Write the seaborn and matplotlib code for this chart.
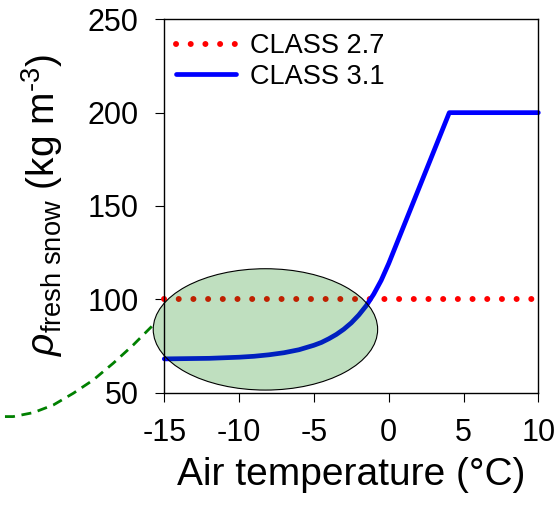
import matplotlib
matplotlib.use("Agg")
import matplotlib.pyplot as plt
from matplotlib.patches import Ellipse
import seaborn as sns
import pandas as pd

# ---- data ----
class27_temp = [-15, 10]
class27_rho = [100, 100]

class31_temp = [-15, -14, -13, -12, -11, -10, -9, -8, -7, -6, -5, -4.5, -4, -3.5,
                -3, -2.5, -2, -1.5, -1, -0.5, 0, 4.05, 10]
class31_rho = [68.1, 68.2, 68.3, 68.4, 68.7, 69.0, 69.5, 70.3, 71.4, 73.0, 75.4, 76.9,
               78.9, 81.2, 84.0, 87.4, 91.6, 96.6, 102.8, 110.2, 119.2, 200, 200]

ext_temp = [-25.65, -25.1, -23.76, -22.42, -21.08, -19.75, -18.41, -17.07, -15.74]
ext_rho = [37.2, 37.2, 39.3, 43.4, 49.7, 56.8, 65.8, 75.6, 86.3]

xticks = [-15, -10, -5, 0, 5, 10]
yticks = [50, 100, 150, 200, 250]

sns.set_style("ticks")
plt.rcParams["font.family"] = ["Liberation Sans", "DejaVu Sans"]
plt.rcParams["mathtext.fontset"] = "custom"
plt.rcParams["mathtext.rm"] = "Liberation Sans"
plt.rcParams["mathtext.it"] = "Liberation Sans:italic"
plt.rcParams["axes.unicode_minus"] = False
plt.rcParams["text.color"] = "black"
plt.rcParams["axes.labelcolor"] = "black"
plt.rcParams["xtick.color"] = "black"
plt.rcParams["ytick.color"] = "black"

fig = plt.figure(figsize=(5.56, 5.08), dpi=100)
ax = fig.add_axes([0.2955, 0.227, 0.6727, 0.735])

df27 = pd.DataFrame({"T": class27_temp, "rho": class27_rho})
df31 = pd.DataFrame({"T": class31_temp, "rho": class31_rho})
dfext = pd.DataFrame({"T": ext_temp, "rho": ext_rho})

sns.lineplot(data=df27, x="T", y="rho", ax=ax, color="#ff0000", lw=4.3,
             linestyle=(0, (0.01, 2.45)), dash_capstyle="round",
             label="CLASS 2.7", clip_on=False, zorder=2)
sns.lineplot(data=df31, x="T", y="rho", ax=ax, color="#0000ff", lw=3.4,
             solid_capstyle="round", solid_joinstyle="round",
             label="CLASS 3.1", clip_on=False, zorder=2)
sns.lineplot(data=dfext, x="T", y="rho", ax=ax, color="#008000", lw=2.0,
             linestyle=(0, (3.6, 2.4)), clip_on=False, zorder=2, legend=False)

ell = Ellipse((-8.24, 83.9), 15.0, 65.0, facecolor=(0, 0.5, 0, 0.25),
              edgecolor="black", lw=0.8, clip_on=False, zorder=2.2)
ax.add_patch(ell)

ax.set_xlim(-15, 10)
ax.set_ylim(50, 250)
ax.set_xticks(xticks)
ax.set_yticks(yticks)
ax.tick_params(axis="both", direction="out", length=6.5, width=0.8,
               labelsize=22, pad=12, color="black", labelcolor="black")
for s in ax.spines.values():
    s.set_visible(True)
    s.set_linewidth(1.0)
    s.set_color("black")

ax.set_xlabel("Air temperature (°C)", fontsize=28, labelpad=6, color="black")
ax.set_ylabel(r"$\rho_{\mathrm{fresh\ snow}}$ (kg m$^{\text{-3}}$)", fontsize=28,
              color="black")
ax.yaxis.set_label_coords(-0.265, 0.503)

leg = ax.legend(loc="upper left", bbox_to_anchor=(0.031, 0.962), frameon=False,
                fontsize=19.5, handlelength=2.22, handletextpad=0.5,
                labelspacing=0.15, borderpad=0, borderaxespad=0)
for t in leg.get_texts():
    t.set_color("black")

fig.savefig("out.png", dpi=100)
